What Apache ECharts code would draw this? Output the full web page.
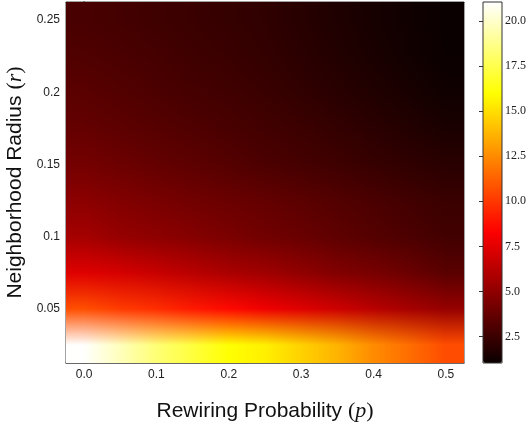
<!DOCTYPE html>
<html>
<head>
<meta charset="utf-8">
<script src="https://cdn.jsdelivr.net/npm/echarts@6/dist/echarts.min.js"></script>
<style>html,body{margin:0;padding:0;background:#fff;}#c{width:529px;height:429px;}</style>
</head>
<body>
<div id="c"></div>
<script>
// ---- data ----
const P_VALUES = [0, 0.05, 0.1, 0.15, 0.2, 0.25, 0.3, 0.35, 0.4, 0.45, 0.5];
const R_VALUES = [0.025, 0.05, 0.075, 0.1, 0.125, 0.15, 0.175, 0.2, 0.225, 0.25];
const X_TICKS = [0, 0.1, 0.2, 0.3, 0.4, 0.5];
const Y_TICKS = [0.05, 0.1, 0.15, 0.2, 0.25];
const CBAR_TICKS = [2.5, 5, 7.5, 10, 12.5, 15, 17.5, 20];
const CBAR_MIN = 1.04, CBAR_MAX = 21.04;

const V_R025 = [21.0, 19.7, 18.3, 17.2, 16.0, 15.5, 14.6, 13.7, 12.5, 11.6, 10.6];
const V_R050 = [10.7, 10.1, 9.7, 9.1, 8.6, 7.9, 7.4, 6.85, 6.25, 5.7, 5.2];
const V_R075 = [7.4, 7.1, 6.7, 6.25, 5.8, 5.5, 5.05, 4.6, 4.3, 3.9, 3.4];
const V_R100 = [5.65, 5.2, 4.95, 4.7, 4.4, 4.1, 3.85, 3.55, 3.25, 3.0, 2.7];
const V_R125 = [4.9, 4.6, 4.35, 4.1, 3.9, 3.7, 3.45, 3.2, 2.95, 2.7, 2.45];
const V_R150 = [4.2, 3.95, 3.7, 3.5, 3.25, 3.0, 2.8, 2.6, 2.35, 2.15, 1.95];
const V_R175 = [3.7, 3.5, 3.3, 3.1, 2.9, 2.7, 2.5, 2.25, 2.0, 1.75, 1.5];
const V_R200 = [3.4, 3.2, 3.0, 2.8, 2.65, 2.45, 2.2, 1.95, 1.7, 1.45, 1.2];
const V_R225 = [3.1, 2.95, 2.8, 2.6, 2.45, 2.25, 2.0, 1.75, 1.5, 1.25, 1.05];
const V_R250 = [2.9, 2.75, 2.6, 2.45, 2.3, 2.15, 1.9, 1.65, 1.4, 1.2, 1.04];
const ROWS = [V_R025, V_R050, V_R075, V_R100, V_R125, V_R150, V_R175, V_R200, V_R225, V_R250];

// ---- colormap (matplotlib "hot") ----
function hot(t) {
  t = Math.max(0, Math.min(1, t));
  const a = 0.365079, b = 0.746032;
  const r = t < a ? 0.0416 + (1 - 0.0416) * t / a : 1;
  const g = t < a ? 0 : (t < b ? (t - a) / (b - a) : 1);
  const bl = t < b ? 0 : (t - b) / (1 - b);
  return [r * 255, g * 255, bl * 255];
}
function valRGB(v) { return hot((v - CBAR_MIN) / (CBAR_MAX - CBAR_MIN)); }
const RGB = ROWS.map(row => row.map(valRGB));
function rgbAt(fx, fy) {
  const nx = P_VALUES.length, ny = R_VALUES.length;
  fx = Math.max(0, Math.min(nx - 1, fx));
  fy = Math.max(0, Math.min(ny - 1, fy));
  const x0 = Math.floor(fx), y0 = Math.floor(fy);
  const x1 = Math.min(nx - 1, x0 + 1), y1 = Math.min(ny - 1, y0 + 1);
  const tx = fx - x0, ty = fy - y0;
  const out = [0, 0, 0];
  for (let c = 0; c < 3; c++) {
    const top = RGB[y0][x0][c] * (1 - tx) + RGB[y0][x1][c] * tx;
    const bot = RGB[y1][x0][c] * (1 - tx) + RGB[y1][x1][c] * tx;
    out[c] = top * (1 - ty) + bot * ty;
  }
  return 'rgb(' + out.map(v => Math.round(v)).join(',') + ')';
}
const cmapStops = [];
for (let k = 0; k <= 64; k++) { const c = hot(k / 64); cmapStops.push('rgb(' + c.map(v => Math.round(v)).join(',') + ')'); }

const data = [];
R_VALUES.forEach((r, i) => P_VALUES.forEach((p, j) => data.push([p, r, ROWS[i][j], j, i])));
const DX = P_VALUES[1] - P_VALUES[0], DY = R_VALUES[1] - R_VALUES[0];

const chart = echarts.init(document.getElementById('c'), null, {renderer: 'canvas'});
const labelStyle = {fontFamily: 'Liberation Sans', fontSize: 12, color: '#222'};
const serif = 'Liberation Serif';

chart.setOption({
  animation: false,
  backgroundColor: '#fff',
  grid: [
    {left: 66, top: 2, width: 398, height: 361, show: true, borderColor: '#444', borderWidth: 1, backgroundColor: 'transparent', containLabel: false, outerBoundsMode: 'none'},
    {left: 483, top: 2, width: 19, height: 361, show: true, borderColor: '#333', borderWidth: 1, backgroundColor: 'transparent', z: 6, containLabel: false, outerBoundsMode: 'none'}
  ],
  xAxis: [
    {gridIndex: 0, type: 'value', min: -0.025, max: 0.525, position: 'bottom',
     axisLine: {show: true, lineStyle: {color: '#555', width: 1.5}},
     axisTick: {show: true, inside: true, length: 4, customValues: X_TICKS, lineStyle: {color: '#777'}},
     axisLabel: Object.assign({show: true, margin: 6, customValues: X_TICKS, formatter: v => v.toFixed(1)}, labelStyle),
     splitLine: {show: false},
     name: 'Rewiring Probability {s|(}{m|p}{s|)}', nameLocation: 'middle', nameGap: 37,
     nameTextStyle: {fontFamily: 'Liberation Sans', fontSize: 21, color: '#111',
       rich: {s: {fontFamily: serif, fontSize: 22, color: '#111'}, m: {fontFamily: serif, fontStyle: 'italic', fontSize: 22, color: '#111'}}}},
    {gridIndex: 0, type: 'value', min: -0.025, max: 0.525, position: 'top',
     axisLine: {show: true, lineStyle: {color: '#333', width: 1}},
     axisTick: {show: true, inside: true, length: 4, customValues: X_TICKS, lineStyle: {color: '#222'}},
     axisLabel: {show: false}, splitLine: {show: false}},
    {gridIndex: 1, type: 'value', min: 0, max: 1, show: false}
  ],
  yAxis: [
    {gridIndex: 0, type: 'value', min: 0.0125, max: 0.2625, position: 'left',
     axisLine: {show: true, lineStyle: {color: '#555', width: 1.5}},
     axisTick: {show: true, inside: true, length: 4, customValues: Y_TICKS, lineStyle: {color: '#333'}},
     axisLabel: Object.assign({show: true, margin: 6, customValues: Y_TICKS}, labelStyle),
     splitLine: {show: false},
     name: 'Neighborhood Radius {s|(}{m|r}{s|)}', nameLocation: 'middle', nameGap: 38,
     nameTextStyle: {fontFamily: 'Liberation Sans', fontSize: 21, color: '#111',
       rich: {s: {fontFamily: serif, fontSize: 22, color: '#111'}, m: {fontFamily: serif, fontStyle: 'italic', fontSize: 22, color: '#111'}}}},
    {gridIndex: 1, type: 'value', min: CBAR_MIN, max: CBAR_MAX, position: 'right',
     axisLine: {show: false},
     axisTick: {show: true, inside: true, length: 4, customValues: CBAR_TICKS, lineStyle: {color: '#333'}},
     axisLabel: {show: true, margin: 3, customValues: CBAR_TICKS, formatter: v => v.toFixed(1), fontFamily: serif, fontSize: 12, color: '#222'},
     splitLine: {show: false}},
    {gridIndex: 0, type: 'value', min: 0.0125, max: 0.2625, position: 'right',
     axisLine: {show: true, lineStyle: {color: '#333', width: 1}},
     axisTick: {show: true, inside: true, length: 4, customValues: Y_TICKS, lineStyle: {color: '#222'}},
     axisLabel: {show: false}, splitLine: {show: false}}
  ],
  visualMap: {
    type: 'continuous', min: CBAR_MIN, max: CBAR_MAX, seriesIndex: 0, dimension: 2,
    left: 483, top: 2, itemWidth: 19, itemHeight: 361, padding: 0,
    calculable: false, realtime: false, hoverLink: false,
    inRange: {color: cmapStops}, text: null, showLabel: false, z: 4
  },
  series: [{
    type: 'custom', xAxisIndex: 0, yAxisIndex: 0, clip: true, silent: true,
    data: data,
    renderItem: function (params, api) {
      const p = api.value(0), r = api.value(1), j = api.value(3), i = api.value(4);
      const tl = api.coord([p - DX / 2, r + DY / 2]);
      const br = api.coord([p + DX / 2, r - DY / 2]);
      const cx = (tl[0] + br[0]) / 2, cw = br[0] - tl[0];
      const x0 = Math.round(tl[0]), x1 = Math.round(br[0]);
      const y0 = Math.round(tl[1]), y1 = Math.round(br[1]);
      const children = [];
      for (let px = x0; px < x1; px++) {
        const fx = j + ((px + 0.5) - cx) / cw;
        children.push({
          type: 'rect',
          shape: {x: px, y: y0, width: 1, height: y1 - y0},
          style: {fill: new echarts.graphic.LinearGradient(0, 0, 0, 1, [
            {offset: 0, color: rgbAt(fx, i + 0.5)},
            {offset: 0.5, color: rgbAt(fx, i)},
            {offset: 1, color: rgbAt(fx, i - 0.5)}
          ])}
        });
      }
      return {type: 'group', children: children};
    }
  }]
});
</script>
</body>
</html>
